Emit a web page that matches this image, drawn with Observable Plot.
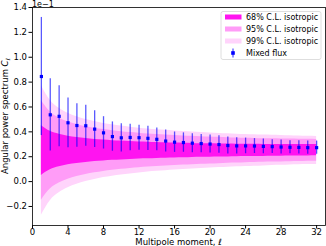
<!DOCTYPE html>
<html>
<head>
<meta charset="utf-8">
<script src="https://cdn.jsdelivr.net/npm/d3@7"></script>
<script src="https://cdn.jsdelivr.net/npm/@observablehq/plot@0.6"></script>
<style>
html,body{margin:0;padding:0;background:#fff;}
svg{font-family:"DejaVu Sans",sans-serif;}
</style>
</head>
<body>
<div id="chart"></div>
<script>
const ell = [1,2,3,4,5,6,7,8,9,10,11,12,13,14,15,16,17,18,19,20,21,22,23,24,25,26,27,28,29,30,31,32];
const flux = [0.845,0.537,0.525,0.473,0.451,0.449,0.422,0.392,0.362,0.352,0.355,0.353,0.348,0.340,0.326,0.317,0.314,0.309,0.306,0.302,0.298,0.290,0.287,0.287,0.286,0.283,0.281,0.278,0.276,0.275,0.273,0.273];
const fluxErr = [0.475,0.290,0.245,0.200,0.175,0.165,0.147,0.130,0.118,0.114,0.107,0.100,0.098,0.092,0.088,0.082,0.078,0.076,0.073,0.072,0.071,0.069,0.066,0.063,0.060,0.060,0.056,0.056,0.053,0.053,0.053,0.053];
const lo68 = [0.050,0.095,0.119,0.135,0.146,0.154,0.161,0.166,0.171,0.174,0.178,0.181,0.183,0.186,0.188,0.190,0.191,0.193,0.195,0.196,0.197,0.198,0.199,0.201,0.201,0.202,0.203,0.204,0.205,0.206,0.206,0.207];
const hi68 = [0.450,0.405,0.381,0.365,0.354,0.346,0.339,0.334,0.329,0.326,0.322,0.319,0.317,0.314,0.312,0.310,0.309,0.307,0.305,0.304,0.303,0.302,0.301,0.300,0.300,0.299,0.299,0.298,0.298,0.298,0.298,0.298];
const lo95 = [-0.150,-0.060,-0.012,0.019,0.041,0.058,0.071,0.082,0.091,0.099,0.106,0.111,0.117,0.121,0.126,0.129,0.133,0.136,0.139,0.142,0.144,0.147,0.149,0.151,0.153,0.155,0.157,0.158,0.160,0.161,0.163,0.164];
const hi95 = [0.650,0.560,0.512,0.481,0.459,0.442,0.429,0.418,0.409,0.401,0.394,0.389,0.383,0.379,0.374,0.371,0.367,0.364,0.361,0.358,0.356,0.353,0.351,0.349,0.347,0.345,0.344,0.343,0.342,0.341,0.340,0.339];
const lo99 = [-0.270,-0.153,-0.090,-0.050,-0.022,0.000,0.017,0.032,0.043,0.053,0.062,0.070,0.077,0.083,0.088,0.093,0.098,0.102,0.106,0.109,0.113,0.116,0.119,0.121,0.124,0.126,0.129,0.131,0.133,0.135,0.137,0.138];
const hi99 = [0.770,0.653,0.590,0.550,0.522,0.500,0.483,0.468,0.457,0.447,0.438,0.430,0.423,0.417,0.412,0.407,0.402,0.398,0.394,0.391,0.387,0.384,0.381,0.379,0.376,0.374,0.372,0.370,0.368,0.366,0.364,0.363];
const xTicks = [0,4,8,12,16,20,24,28,32];
const yTicks = [-0.2,0,0.2,0.4,0.6,0.8,1.0,1.2,1.4];
const legendLabels = ["68% C.L. isotropic","95% C.L. isotropic","99% C.L. isotropic","Mixed flux"];

const c68 = "#ff14f0", c95 = "#ff9cf7", c99 = "#ffd4fb", cBlue = "#0000ff";

const data = ell.map((l,i)=>({ell:l, v:flux[i], e:fluxErr[i], lo68:lo68[i], hi68:hi68[i], lo95:lo95[i], hi95:hi95[i], lo99:lo99[i], hi99:hi99[i]}));

const W = 326, H = 246;
const plot = Plot.plot({
  width: W, height: H,
  marginLeft: 32, marginRight: 1, marginTop: 7, marginBottom: 21,
  style: {fontFamily: "DejaVu Sans, sans-serif", fontSize: "8.5px", color: "#000", background: "#fff"},
  x: {domain: [0, 33], ticks: xTicks, tickSize: 3.5, tickPadding: 0, tickFormat: d => String(d), label: null},
  y: {domain: [-0.353, 1.4], ticks: yTicks, tickSize: 3.5, tickPadding: 2, tickFormat: d => (d < 0 ? "\u2212" : "") + Math.abs(d).toFixed(1), label: null},
  marks: [
    Plot.areaY(data, {x: "ell", y1: "lo99", y2: "hi99", fill: c99, curve: "monotone-x"}),
    Plot.areaY(data, {x: "ell", y1: "lo95", y2: "hi95", fill: c95, curve: "monotone-x"}),
    Plot.areaY(data, {x: "ell", y1: "lo68", y2: "hi68", fill: c68, curve: "monotone-x"}),
    Plot.ruleX(data, {x: "ell", y1: d => d.v - d.e, y2: d => d.v + d.e, stroke: cBlue, strokeOpacity: 0.65, strokeWidth: 1.3}),
    Plot.dot(data, {x: "ell", y: "v", r: 1.8, fill: cBlue, stroke: "none", symbol: "square"}),
    Plot.frame({stroke: "#000", strokeWidth: 0.8})
  ]
});
document.getElementById("chart").appendChild(plot);

const svg = d3.select(plot);
// offset text
svg.append("text").attr("x", 32).attr("y", 6.5).attr("text-anchor", "start").attr("font-size", "8px").text("1e\u22121");
// x label
svg.append("text").attr("x", 178.5).attr("y", 245).attr("text-anchor", "middle").attr("font-size", "8.5px").text("Multipole moment, ")
  .append("tspan").attr("font-style", "italic").text("\u2113");
// y label
const yl = svg.append("text").attr("transform", "translate(8,116) rotate(-90)").attr("text-anchor", "middle").attr("font-size", "8.5px");
yl.append("tspan").text("Angular power spectrum ");
yl.append("tspan").attr("font-style", "italic").text("C");
yl.append("tspan").attr("font-style", "italic").attr("font-size", "6px").attr("dy", 2).text("\u2113");

// legend
const lg = svg.append("g").attr("text-anchor", "start");
lg.append("rect").attr("x", 221).attr("y", 11.5).attr("width", 100).attr("height", 48).attr("rx", 2)
  .attr("fill", "#fff").attr("fill-opacity", 0.8).attr("stroke", "#d6d6d6").attr("stroke-width", 0.8);
const sw = [c68, c95, c99];
legendLabels.forEach((t, i) => {
  const cy = 17 + i * 12;
  if (i < 3) {
    lg.append("rect").attr("x", 225).attr("y", cy - 2.5).attr("width", 16.5).attr("height", 5).attr("fill", sw[i]);
  } else {
    lg.append("line").attr("x1", 233).attr("x2", 233).attr("y1", cy - 4.5).attr("y2", cy + 4.5).attr("stroke", cBlue).attr("stroke-opacity", 0.65).attr("stroke-width", 1.3);
    lg.append("rect").attr("x", 231.2).attr("y", cy - 1.8).attr("width", 3.6).attr("height", 3.6).attr("fill", cBlue);
  }
  lg.append("text").attr("x", 246).attr("y", cy + 3).attr("text-anchor", "start").attr("font-size", "8px").text(t);
});
</script>
</body>
</html>
